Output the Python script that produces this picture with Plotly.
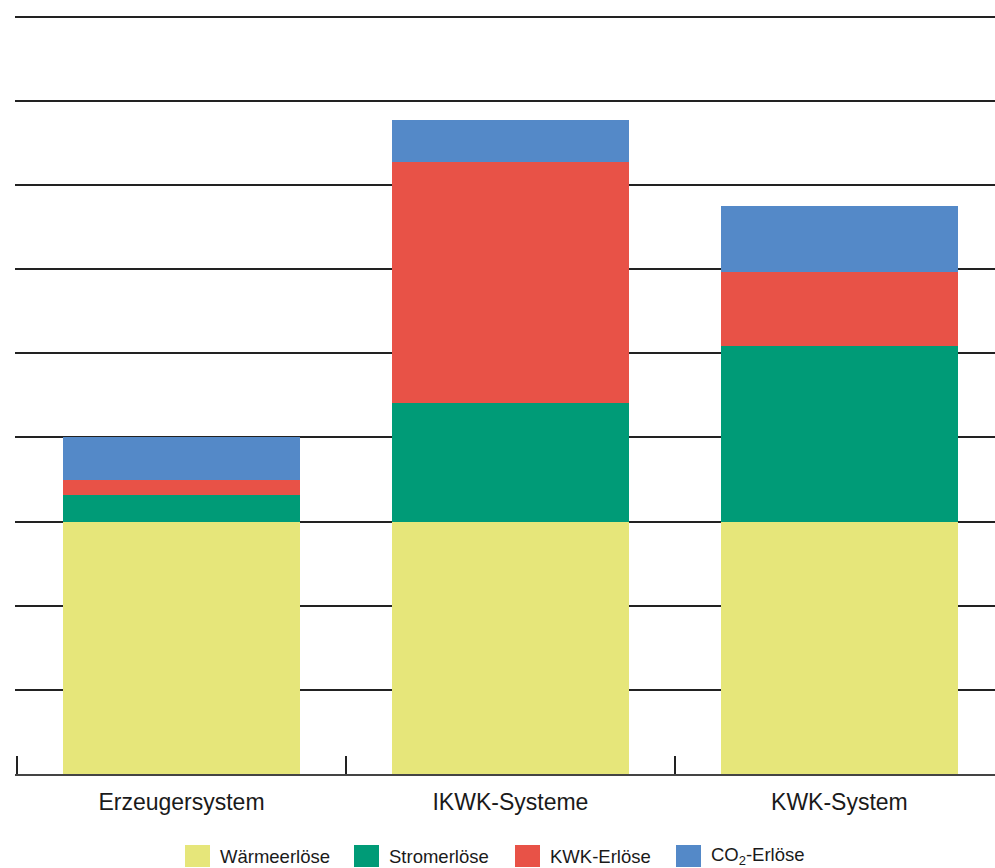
import plotly.graph_objects as go

categories = ["Erzeugersystem", "IKWK-Systeme", "KWK-System"]
waerme = [3.0, 3.0, 3.0]
strom = [0.31, 1.405, 2.09]
kwk = [0.18, 2.87, 0.88]
co2 = [0.51, 0.50, 0.78]

series_names = ["Wärmeerlöse", "Stromerlöse", "KWK-Erlöse", "CO<sub>2</sub>-Erlöse"]
series_values = [waerme, strom, kwk, co2]
colors = ["#E6E67A", "#009B77", "#E85247", "#5489C8"]

FONT = "Liberation Sans, Arial, sans-serif"

fig = go.Figure()
for name, vals, col in zip(series_names, series_values, colors):
    fig.add_trace(go.Bar(x=categories, y=vals, name=name, marker=dict(color=col, line=dict(width=0)),
                         width=0.72, showlegend=False))

# custom legend (swatches + labels below plot)
W, L = 980, 15
H, B = 760, 774
leg_x = [185, 354, 515, 676]
for lx, name, col in zip(leg_x, series_names, colors):
    fig.add_shape(type="rect", xref="paper", yref="paper",
                  x0=(lx - L) / W, x1=(lx + 25 - L) / W,
                  y0=(B - 867) / H, y1=(B - 845) / H,
                  fillcolor=col, line=dict(width=0))
    fig.add_annotation(xref="paper", yref="paper", x=(lx + 33 - L) / W, y=(B - 856) / H,
                       text=name, showarrow=False, xanchor="left", yanchor="middle",
                       font=dict(family=FONT, size=18.5, color="#1a1a1a"))

fig.update_layout(
    barmode="stack",
    width=995, height=868,
    margin=dict(l=15, r=0, t=14, b=94),
    paper_bgcolor="white", plot_bgcolor="white",
    font=dict(family=FONT, color="#1a1a1a"),
    xaxis=dict(type="category", range=[-0.506, 2.473], tickson="boundaries",
               ticks="inside", ticklen=18, tickwidth=1.5, tickcolor="#222",
               showline=True, linecolor="#444", linewidth=1.5, layer="below traces",
               showgrid=False, tickfont=dict(size=23, family=FONT, color="#1a1a1a"),
               ticklabelstandoff=7),
    yaxis=dict(range=[0, 9.03], dtick=1, showticklabels=False, showgrid=True,
               gridcolor="#222", gridwidth=1.5, zeroline=False, showline=False, ticks=""),
)

fig.write_html("out.html")
